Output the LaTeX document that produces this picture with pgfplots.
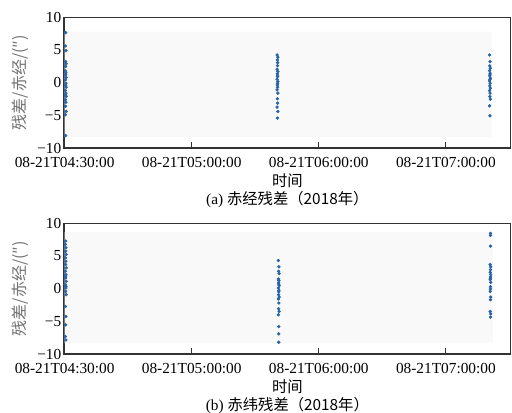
\documentclass[border=0pt]{standalone}
\usepackage{pgfplots}
\pgfplotsset{compat=1.18}
\usepackage{fontspec}
\setmainfont{Liberation Serif}
\newfontfamily\cjk{Noto Sans CJK SC}
\definecolor{dot}{RGB}{38,100,166}
\definecolor{bgzone}{RGB}{249,249,249}
\pgfplotsset{
  resid/.style={
    scale only axis, width=335pt, height=98pt,
    xmin=-0.005, xmax=3.51, ymin=-10, ymax=10,
    xtick={0,1,2,3},
    xticklabels={08-21T04:30:00,08-21T05:00:00,08-21T06:00:00,08-21T07:00:00},
    ytick={-10,-5,0,5,10},
    yticklabels={−10,−5,0,5,10},
    tick align=inside, xtick pos=left, ytick pos=left,
    major tick length=4.5pt,
    tick style={black!80, line width=0.8pt},
    axis line style={black!80, line width=0.9pt},
    tick label style={font=\fontsize{11.5}{13}\selectfont},
    xticklabel style={yshift=-3.5pt},
    yticklabel style={xshift=1.5pt},
    ylabel={\cjk{残差/赤经/}(″)},
    ylabel style={font=\fontsize{12}{14}\selectfont, text=black!55, yshift=0pt},
    xlabel style={font=\fontsize{11.5}{13.5}\selectfont, align=center, yshift=2.5pt},
  },
  dots/.style={only marks, mark=*, mark size=1.05pt, color=dot},
}
\begin{document}
\begin{tikzpicture}
\useasboundingbox (0,0) rectangle (384pt,-309pt);
% (a) right ascension
\begin{axis}[resid, at={(48pt,-111pt)}, anchor=south west,
  xlabel={\cjk{时间}\\(a) \cjk{赤经残差（}2018\cjk{年）}}]
\addplot[draw=none, fill=bgzone] coordinates {(0,-8.3)(3.36,-8.3)(3.36,7.8)(0,7.8)(0,-8.3)};
\addplot[dots] coordinates {
(0.008,7.66)(0.006,5.62)(0.01,4.9)(0.008,3.23)(0.012,2.9)(0.008,2.47)(0.006,1.8)(0.01,1.5)
(0.008,1.2)(0.012,0.8)(0.006,0.43)(0.01,-0.08)(0.008,-0.4)(0.012,-0.7)(0.006,-1.2)(0.01,-1.6)
(0.008,-1.9)(0.012,-2.1)(0.006,-2.6)(0.01,-3.0)(0.008,-3.6)(0.012,-4.4)(0.006,-4.9)(0.008,-8.1)
};
\addplot[dots] coordinates {
(1.672,4.24)(1.678,3.89)(1.674,3.48)(1.676,3.07)(1.672,2.06)(1.678,1.69)(1.674,1.34)(1.676,0.93)
(1.672,0.53)(1.678,0.17)(1.674,-0.34)(1.676,-0.69)(1.672,-1.1)(1.678,-1.6)(1.674,-2.47)(1.676,-3.13)
(1.672,-3.74)(1.678,-4.41)(1.675,-5.42)(1.675,2.6)(1.675,1.0)(1.675,-0.1)
};
\addplot[dots] coordinates {
(3.344,4.24)(3.348,3.22)(3.346,2.56)(3.35,2.21)(3.344,1.85)(3.348,1.45)(3.346,1.04)(3.35,0.69)
(3.344,0.27)(3.348,-0.08)(3.346,-0.49)(3.35,-0.84)(3.344,-1.21)(3.348,-1.6)(3.346,-2.12)(3.35,-2.52)
(3.344,-3.54)(3.347,-5.07)(3.347,1.2)(3.347,0.5)
};
\end{axis}
% (b) declination
\begin{axis}[resid, at={(48pt,-265.5pt)}, anchor=south west,
  xlabel={\cjk{时间}\\(b) \cjk{赤纬残差（}2018\cjk{年）}}]
\addplot[draw=none, fill=bgzone] coordinates {(0,-8.35)(3.37,-8.35)(3.37,8.66)(0,8.66)(0,-8.35)};
\addplot[dots] coordinates {
(0.008,7.28)(0.006,6.77)(0.01,6.26)(0.008,5.74)(0.012,5.23)(0.006,4.72)(0.01,4.2)(0.008,3.69)
(0.012,3.18)(0.006,2.67)(0.01,2.15)(0.008,1.64)(0.012,1.13)(0.006,0.62)(0.01,0.1)(0.008,-0.41)
(0.012,-0.92)(0.006,-2.72)(0.01,-4.26)(0.008,-5.54)(0.006,-7.33)(0.01,-7.85)(0.008,1.9)(0.01,0.35)
};
\addplot[dots] coordinates {
(1.682,4.31)(1.686,3.34)(1.684,2.66)(1.688,2.31)(1.682,1.49)(1.686,1.23)(1.684,0.88)(1.688,0.46)
(1.682,0.11)(1.686,-0.26)(1.684,-0.92)(1.688,-1.28)(1.682,-1.58)(1.686,-2.2)(1.684,-3.08)(1.688,-3.49)
(1.682,-4.0)(1.685,-5.8)(1.685,-6.92)(1.685,-8.2)(1.685,0.7)(1.685,-0.5)
};
\addplot[dots] coordinates {
(3.351,8.46)(3.351,8.15)(3.351,6.51)(3.349,3.69)(3.353,3.34)(3.351,2.92)(3.349,2.51)(3.353,2.15)
(3.351,1.8)(3.349,1.38)(3.353,0.97)(3.351,-0.05)(3.349,-0.42)(3.353,-1.28)(3.351,-1.69)(3.349,-3.49)
(3.353,-3.85)(3.351,-4.35)(3.351,1.6)(3.351,0.3)
};
\end{axis}
\end{tikzpicture}
\end{document}
